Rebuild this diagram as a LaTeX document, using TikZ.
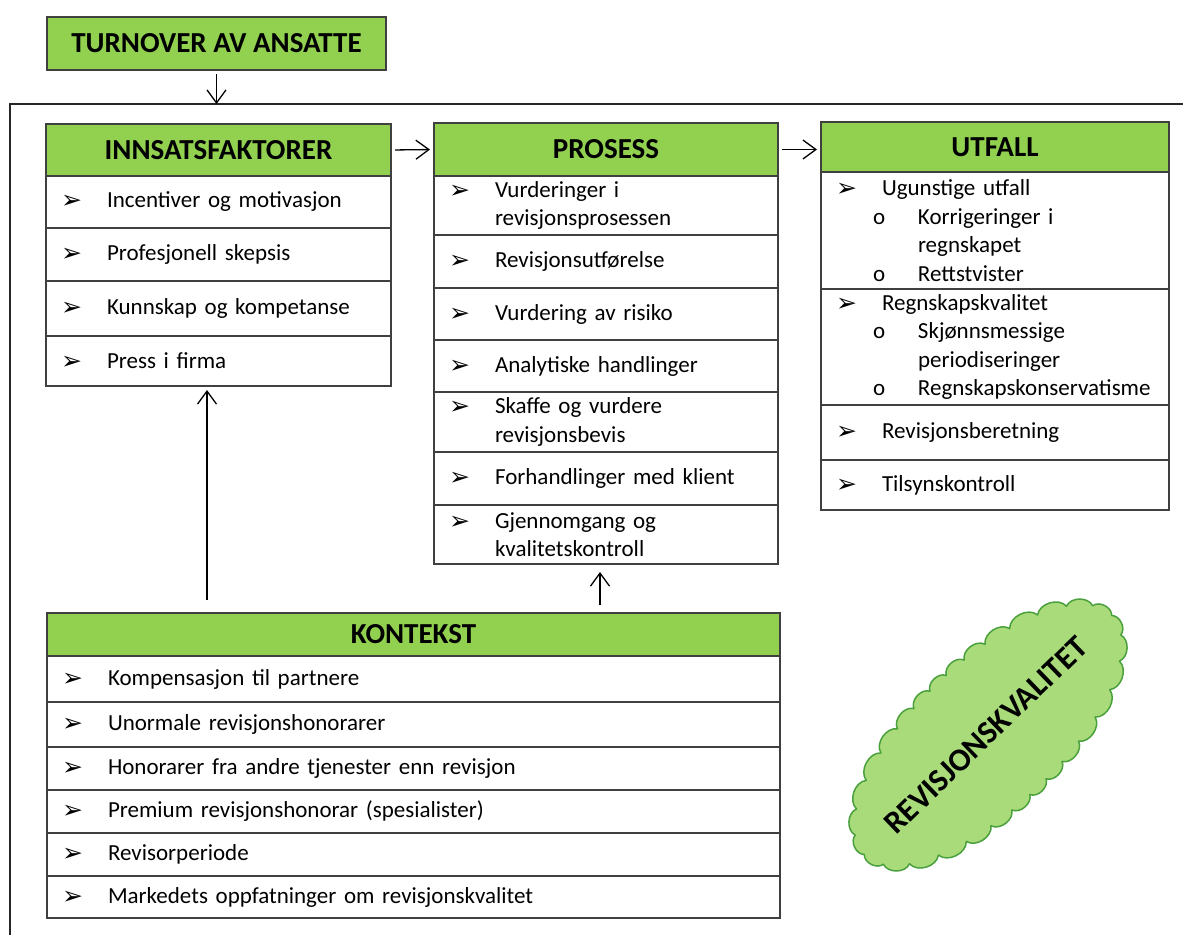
\documentclass[tikz,border=0pt]{standalone}
\usepackage{fontspec}
\setmainfont{Carlito}
\newfontfamily\symfont{DejaVu Sans}
\usetikzlibrary{arrows.meta, positioning}
\definecolor{hgreen}{RGB}{146, 208, 80}
\definecolor{cloudfill}{RGB}{169, 219, 122}
\definecolor{cloudedge}{RGB}{74, 160, 60}
\definecolor{frame}{RGB}{64, 64, 64}

\newcommand{\bul}{\makebox[46pt][l]{\raisebox{-1pt}{\symfont\fontsize{25}{20}\selectfont ➢}}}
\newcommand{\itm}[1]{\mbox{\bul#1}}
\newcommand{\cnt}[1]{\mbox{\hspace*{46pt}#1}}
\newcommand{\subitm}[1]{\mbox{\hspace*{37pt}\makebox[45pt][l]{o}#1}}
\newcommand{\subcnt}[1]{\mbox{\hspace*{82pt}#1}}

\begin{document}
\begin{tikzpicture}[
  x=1pt, y=-1pt,
  node distance=0pt,
  >={Straight Barb[length=13pt, width=19pt]},
  declare function={tp(\s)=\s+10.7*sin(2*\s);},
  head/.style={
    rectangle, draw=frame, fill=hgreen,
    line width=1.2pt, inner sep=0pt, outer sep=0pt,
    font=\bfseries\fontsize{29}{32}\selectfont
  },
  rowbox/.style={
    rectangle, draw=frame, fill=white,
    line width=1.2pt, inner xsep=15pt, inner ysep=0pt, outer sep=0pt,
    align=left, font=\fontsize{23}{28.5}\selectfont
  },
  conn/.style={->, line width=1.3pt, draw=black, shorten <=4pt, shorten >=4pt},
  puffs/.style={draw=cloudedge, fill=cloudfill, line width=1.5pt, line join=round}
]
  \useasboundingbox (0,0) rectangle (1183,935);

  % outer frame
  \draw[line width=1.6pt, draw=black!85] (1183,104) -- (10,104) -- (10,935);

  \node[head, minimum width=339pt, minimum height=53pt, anchor=north west] (turn) at (47,17) {TURNOVER AV ANSATTE};
  \coordinate (ftop) at (turn.south |- 0,104);
  \draw[conn, shorten >=0pt] (turn.south) -- (ftop);

  % innsatsfaktorer
  \node[head, minimum width=345pt, minimum height=52pt, anchor=north west] (inhead) at (46,124) {INNSATSFAKTORER};
  \node[rowbox, text width=315pt, minimum height=52pt, below=of inhead] (inrow1) {\itm{Incentiver og motivasjon}};
  \node[rowbox, text width=315pt, minimum height=53pt, below=of inrow1] (inrow2) {\itm{Profesjonell skepsis}};
  \node[rowbox, text width=315pt, minimum height=55pt, below=of inrow2] (inrow3) {\itm{Kunnskap og kompetanse}};
  \node[rowbox, text width=315pt, minimum height=50pt, below=of inrow3] (inrow4) {\itm{Press i firma}};

  % prosess
  \node[head, minimum width=344pt, minimum height=53pt, anchor=north west] (prhead) at (434,123) {PROSESS};
  \node[rowbox, text width=314pt, minimum height=59pt, below=of prhead] (prrow1) {\itm{Vurderinger i}\\\cnt{revisjonsprosessen}};
  \node[rowbox, text width=314pt, minimum height=53pt, below=of prrow1] (prrow2) {\itm{Revisjonsutførelse}};
  \node[rowbox, text width=314pt, minimum height=52pt, below=of prrow2] (prrow3) {\itm{Vurdering av risiko}};
  \node[rowbox, text width=314pt, minimum height=52pt, below=of prrow3] (prrow4) {\itm{Analytiske handlinger}};
  \node[rowbox, text width=314pt, minimum height=60pt, below=of prrow4] (prrow5) {\itm{Skaffe og vurdere}\\\cnt{revisjonsbevis}};
  \node[rowbox, text width=314pt, minimum height=53pt, below=of prrow5] (prrow6) {\itm{Forhandlinger med klient}};
  \node[rowbox, text width=314pt, minimum height=59pt, below=of prrow6] (prrow7) {\itm{Gjennomgang og}\\\cnt{kvalitetskontroll}};

  % utfall
  \node[head, minimum width=348pt, minimum height=50pt, anchor=north west] (uthead) at (821,122) {UTFALL};
  \node[rowbox, text width=318pt, minimum height=117pt, below=of uthead] (utrow1)
    {\itm{Ugunstige utfall}\\\subitm{Korrigeringer i}\\\subcnt{regnskapet}\\\subitm{Rettstvister}};
  \node[rowbox, text width=318pt, minimum height=116pt, below=of utrow1] (utrow2)
    {\itm{Regnskapskvalitet}\\\subitm{Skjønnsmessige}\\\subcnt{periodiseringer}\\\subitm{Regnskapskonservatisme}};
  \node[rowbox, text width=318pt, minimum height=55pt, below=of utrow2] (utrow3) {\itm{Revisjonsberetning}};
  \node[rowbox, text width=318pt, minimum height=50pt, below=of utrow3] (utrow4) {\itm{Tilsynskontroll}};

  % kontekst
  \node[head, minimum width=733pt, minimum height=43pt, anchor=north west] (kohead) at (47,613) {KONTEKST};
  \node[rowbox, text width=703pt, minimum height=46pt, below=of kohead] (korow1) {\itm{Kompensasjon til partnere}};
  \node[rowbox, text width=703pt, minimum height=45pt, below=of korow1] (korow2) {\itm{Unormale revisjonshonorarer}};
  \node[rowbox, text width=703pt, minimum height=43pt, below=of korow2] (korow3) {\itm{Honorarer fra andre tjenester enn revisjon}};
  \node[rowbox, text width=703pt, minimum height=43pt, below=of korow3] (korow4) {\itm{Premium revisjonshonorar (spesialister)}};
  \node[rowbox, text width=703pt, minimum height=43pt, below=of korow4] (korow5) {\itm{Revisorperiode}};
  \node[rowbox, text width=703pt, minimum height=42pt, below=of korow5] (korow6) {\itm{Markedets oppfatninger om revisjonskvalitet}};

  \draw[conn] (inhead.east) -- (prhead.west);
  \draw[conn] (prhead.east) -- (uthead.west |- prhead.east);

  \coordinate (kin) at (207,600);
  \coordinate (kpr) at (600,605);
  \draw[conn, shorten <=0pt] (kin) -- (kin |- inrow4.south);
  \draw[conn, shorten <=0pt, shorten >=8pt] (kpr) -- (kpr |- prrow7.south);

  % cloud
  \begin{scope}[shift={(988,735)}, y=1pt, rotate=44]
    \draw[puffs] (172,0) foreach \i in {1,...,30} {
      to[bend right=65] ({172*cos(tp(\i*12))}, {72*sin(tp(\i*12))}) } -- cycle;
  \end{scope}
  \node[rotate=44, font=\bfseries\fontsize{32}{34}\selectfont] (rkval) at (986,735) {REVISJONSKVALITET};
\end{tikzpicture}
\end{document}
